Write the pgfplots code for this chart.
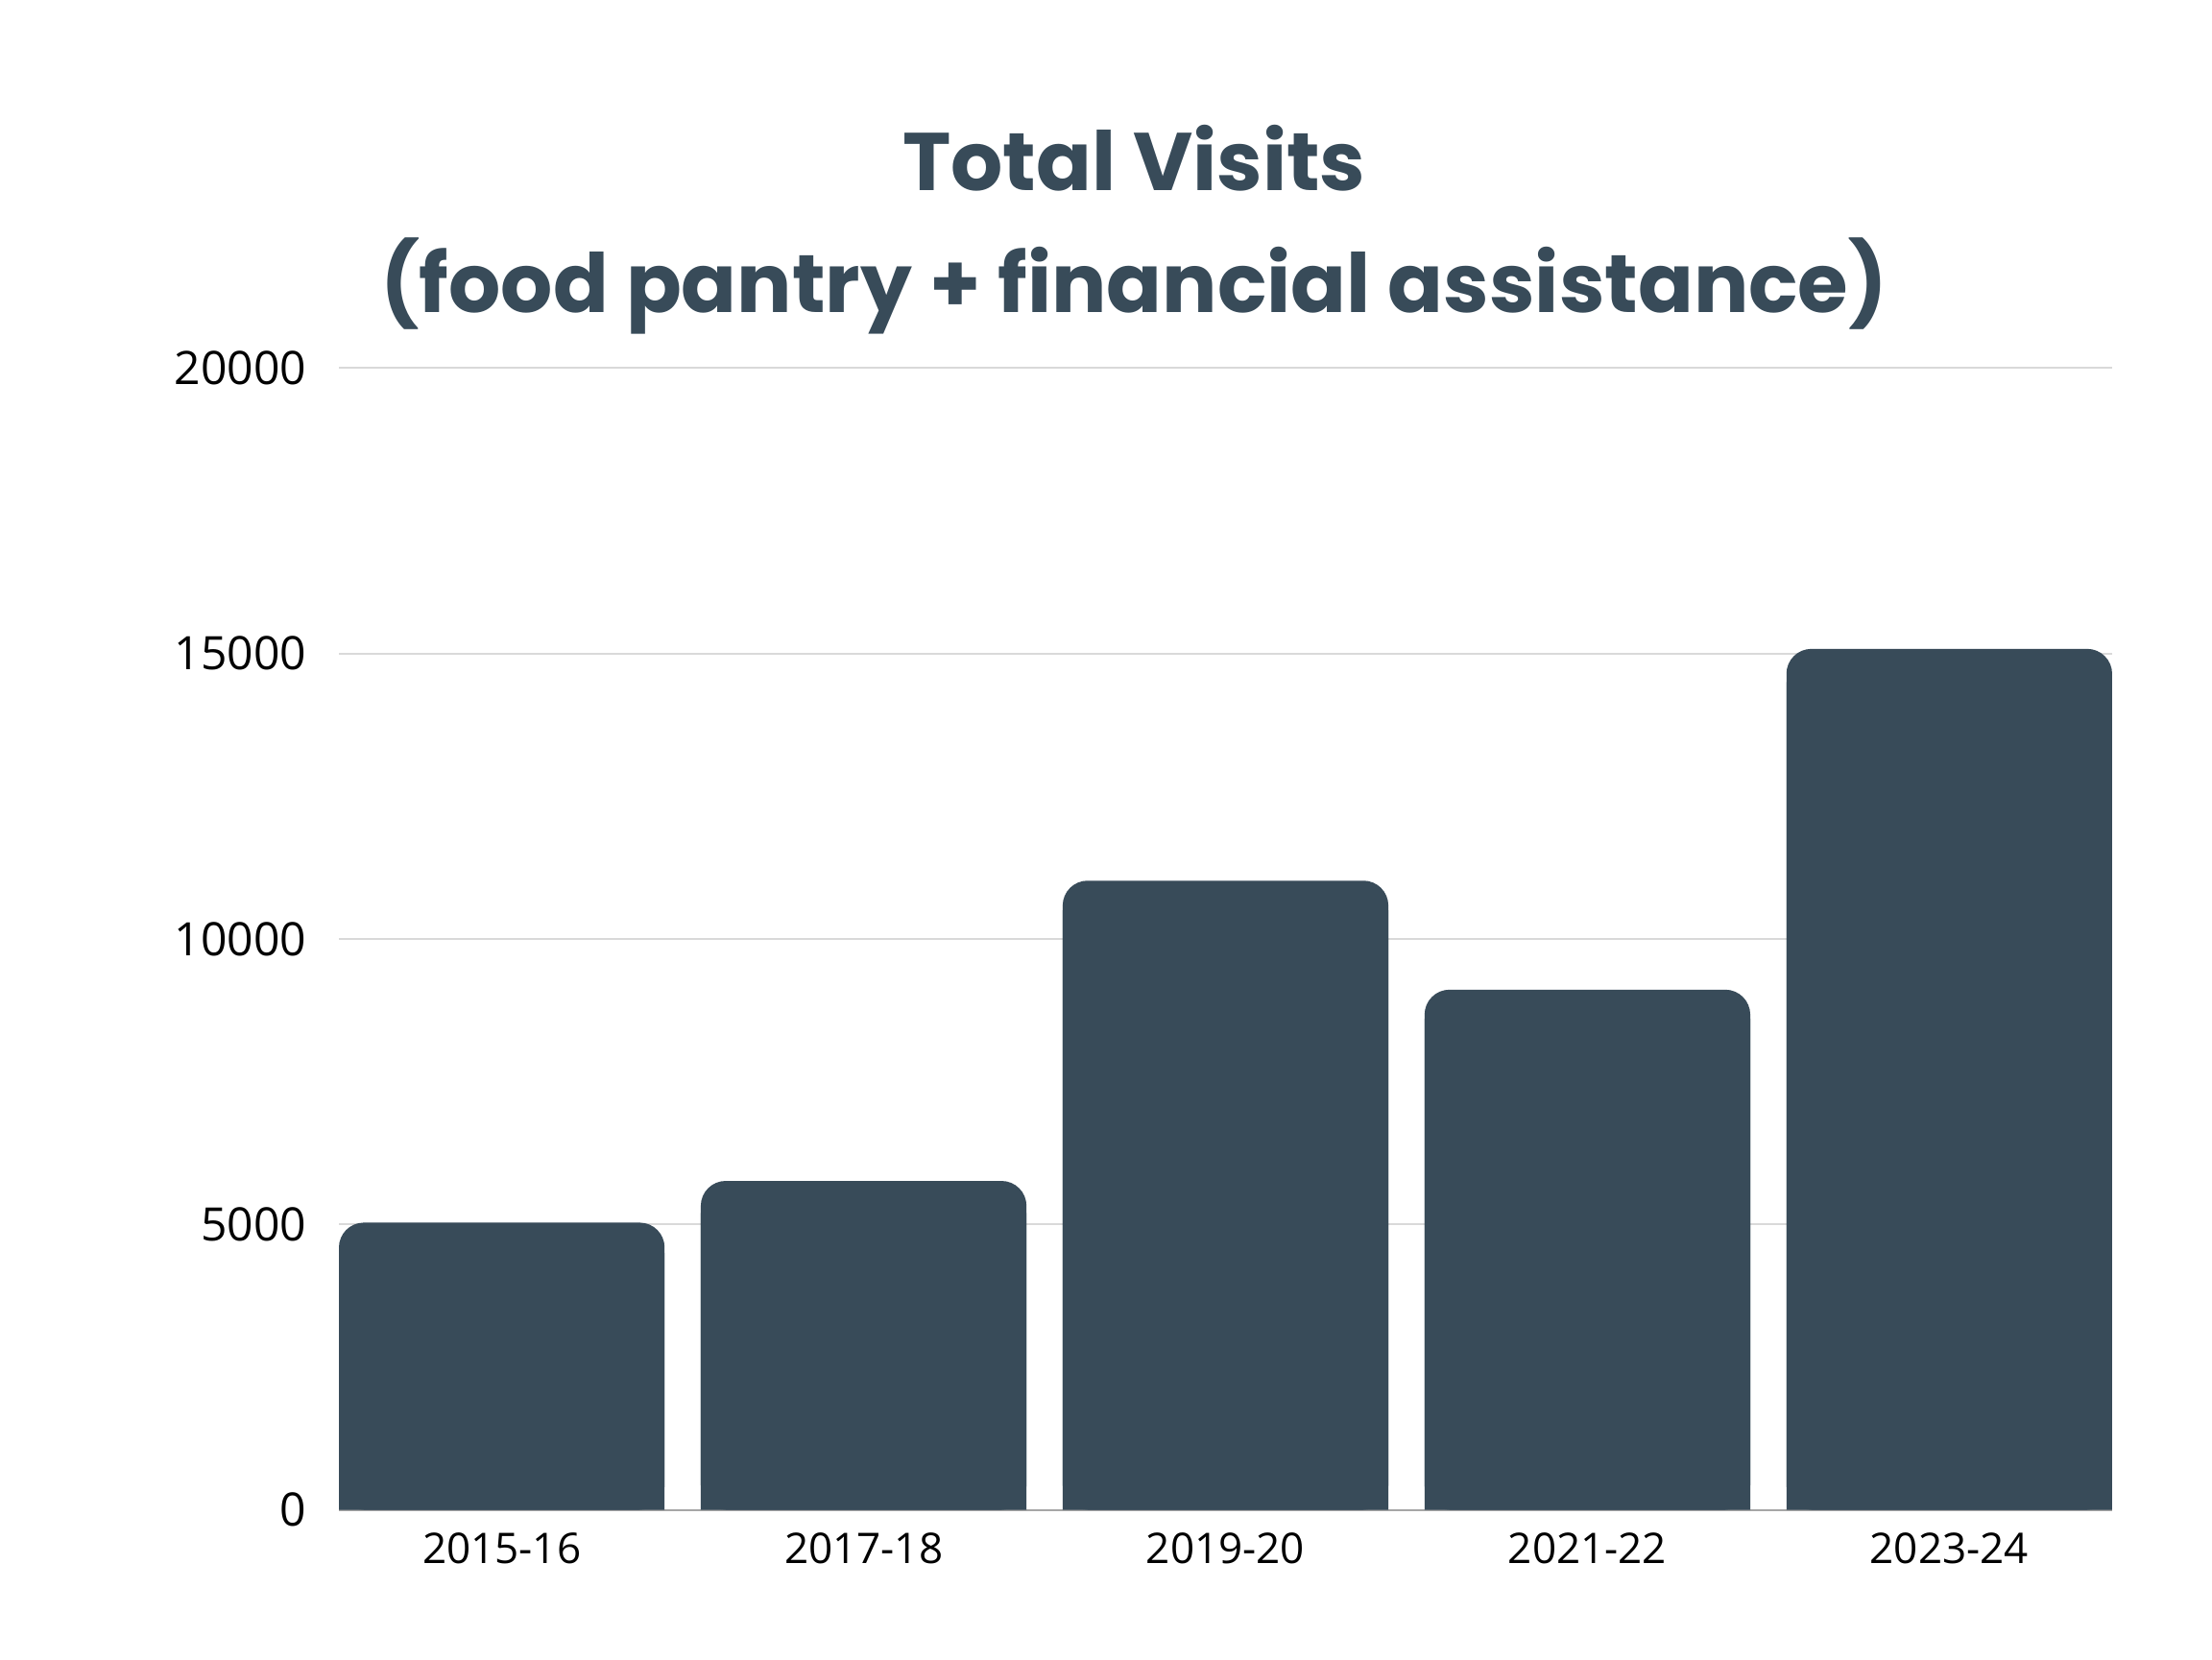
\documentclass[border=0pt]{standalone}
\usepackage{fontspec}
\setmainfont{Open Sans}
\newfontfamily\titlefont{Poppins}
\usepackage{pgfplots}
\pgfplotsset{compat=1.18}
\definecolor{barc}{HTML}{384B59}
\definecolor{gridc}{HTML}{D9D9D9}
\definecolor{basec}{HTML}{A6A6A6}
\begin{document}
\begin{tikzpicture}[x=1pt,y=1pt]
\path[use as bounding box] (0,0) rectangle (576,432);
\node[anchor=base, text=barc, font=\titlefont\bfseries\fontsize{21.3}{24}\selectfont] at (295.3,382.4) {Total Visits};
\node[anchor=base, text=barc, font=\titlefont\bfseries\fontsize{21.3}{24}\selectfont] at (295.3,350.6) {(food pantry + financial assistance)};
\begin{axis}[
  at={(88.25pt,38.875pt)}, anchor=south west,
  scale only axis, width=461.75pt, height=297.3pt,
  xmin=-0.45, xmax=4.45, ymin=0, ymax=20000,
  ybar, bar width=0.9,
  xtick={0,1,2,3,4},
  xticklabels={2015-16,2017-18,2019-20,2021-22,2023-24},
  ytick={0,5000,10000,15000,20000},
  ymajorgrids, grid style={gridc, line width=0.5pt},
  axis lines=left,
  x axis line style={draw=basec, line width=0.5pt, -},
  y axis line style={draw=none},
  major tick length=0pt, tick style={draw=none},
  yticklabel style={anchor=east, inner sep=0pt, xshift=-8.25pt, font=\fontsize{12}{13}\selectfont},
  xticklabel style={anchor=base, inner sep=0pt, yshift=-14pt, font=\fontsize{11}{12}\selectfont},
  /pgf/number format/assume math mode=true,
  /pgf/number format/1000 sep={},
  scaled y ticks=false,
]
\addplot[fill=barc, draw=none, bar shift=0pt, rounded corners=6.5pt] coordinates {(0,5030) (1,5760) (2,11020) (3,9110) (4,15080)};
\addplot[fill=barc, draw=none, bar shift=0pt] coordinates {(0,4500) (1,5200) (2,10500) (3,8600) (4,14500)};
\end{axis}
\end{tikzpicture}
\end{document}
